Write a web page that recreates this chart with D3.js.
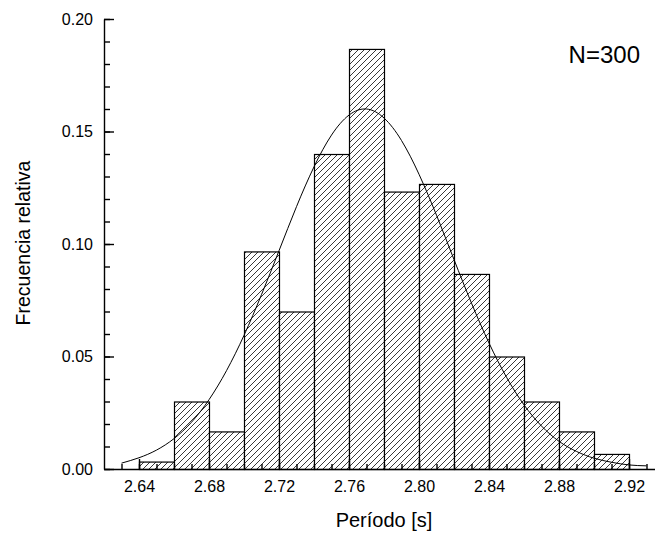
<!DOCTYPE html>
<html>
<head>
<meta charset="utf-8">
<script src="https://cdn.jsdelivr.net/npm/d3@7"></script>
<style>
  body { margin: 0; background: #fff; }
  svg { display: block; font-family: "Liberation Sans", Arial, sans-serif; }
  .axis text { font-size: 16px; fill: #000; }
  .axis path, .axis line { stroke: #000; stroke-width: 1.4; }
</style>
</head>
<body>
<div id="chart"></div>
<script>

// histogram bins (left edge, relative frequency)
var binStart = [2.64, 2.66, 2.68, 2.70, 2.72, 2.74, 2.76, 2.78, 2.80, 2.82, 2.84, 2.86, 2.88, 2.90];
var relFreq = [0.0033, 0.030, 0.0167, 0.0967, 0.070, 0.140, 0.1867, 0.1233, 0.1267, 0.0867, 0.050, 0.030, 0.0167, 0.0067];
var binWidth = 0.02;

// fitted gaussian
var fitX = [2.63, 2.64, 2.65, 2.66, 2.67, 2.68, 2.69, 2.70, 2.71, 2.72, 2.73, 2.74, 2.75, 2.76, 2.77, 2.78,
            2.79, 2.80, 2.81, 2.82, 2.83, 2.84, 2.85, 2.86, 2.87, 2.88, 2.89, 2.90, 2.91, 2.92, 2.93];
var fitY = [0.0026, 0.0050, 0.0084, 0.0135, 0.0208, 0.0308, 0.0437, 0.0594, 0.0775, 0.0970, 0.1166, 0.1343, 0.1484, 0.1573, 0.1600, 0.1560,
            0.1460, 0.1310, 0.1128, 0.0931, 0.0737, 0.0560, 0.0408, 0.0285, 0.0191, 0.0123, 0.0078, 0.0048, 0.0030, 0.0018, 0.0014];

var xTicks = [2.64, 2.68, 2.72, 2.76, 2.80, 2.84, 2.88, 2.92];
var yTicks = [0.00, 0.05, 0.10, 0.15, 0.20];
var label = "N=300";

var width = 655, height = 533;

var x = d3.scaleLinear().domain([2.62, 2.935]).range([104, 655.25]);
var y = d3.scaleLinear().domain([0, 0.2]).range([469, 19]);

var svg = d3.select("#chart").append("svg")
    .attr("width", width)
    .attr("height", height);

var pat = svg.append("defs").append("pattern")
    .attr("id", "hatch")
    .attr("patternUnits", "userSpaceOnUse")
    .attr("width", 6)
    .attr("height", 6);
pat.append("rect").attr("width", 6).attr("height", 6).attr("fill", "#fff");
pat.append("path")
    .attr("d", "M0,6 L6,0 M-1,1 L1,-1 M5,7 L7,5")
    .attr("stroke", "#222")
    .attr("stroke-width", 0.9);

svg.selectAll("rect.bar")
    .data(relFreq)
    .enter().append("rect")
    .attr("class", "bar")
    .attr("x", function(d, i) { return x(binStart[i]) + 0.5; })
    .attr("width", function(d, i) { return x(binStart[i] + binWidth) - x(binStart[i]); })
    .attr("y", function(d) { return y(d) + 0.5; })
    .attr("height", function(d) { return y(0) - y(d); })
    .attr("fill", "url(#hatch)")
    .attr("stroke", "#000")
    .attr("stroke-width", 1.2);

var line = d3.line()
    .x(function(d, i) { return x(fitX[i]); })
    .y(function(d) { return y(d); })
    .curve(d3.curveNatural);

svg.append("path")
    .attr("d", line(fitY))
    .attr("fill", "none")
    .attr("stroke", "#000")
    .attr("stroke-width", 1);

// minor ticks first, major axes on top
var xMinor = d3.range(2.63, 2.935, 0.01).map(function(v) { return +v.toFixed(2); });
var yMinor = d3.range(0, 0.2001, 0.01).map(function(v) { return +v.toFixed(2); });

svg.append("g")
    .attr("class", "axis")
    .attr("transform", "translate(0," + y(0) + ")")
    .call(d3.axisBottom(x).tickValues(xMinor).tickSize(-5).tickSizeOuter(0).tickFormat(""))
    .select(".domain").remove();

svg.append("g")
    .attr("class", "axis")
    .attr("transform", "translate(" + x(2.62) + ",0)")
    .call(d3.axisLeft(y).tickValues(yMinor).tickSize(-6).tickSizeOuter(0).tickFormat(""))
    .select(".domain").remove();

svg.append("g")
    .attr("class", "axis")
    .attr("transform", "translate(0," + y(0) + ")")
    .call(d3.axisBottom(x).tickValues(xTicks).tickSize(-10).tickSizeOuter(0).tickPadding(12)
        .tickFormat(d3.format(".2f")));

svg.append("g")
    .attr("class", "axis")
    .attr("transform", "translate(" + x(2.62) + ",0)")
    .call(d3.axisLeft(y).tickValues(yTicks).tickSize(-10).tickSizeOuter(0).tickPadding(11)
        .tickFormat(d3.format(".2f")));

svg.append("text")
    .attr("x", 384)
    .attr("y", 527)
    .attr("text-anchor", "middle")
    .attr("font-size", 20)
    .text("Período [s]");

svg.append("text")
    .attr("transform", "translate(30,243) rotate(-90)")
    .attr("text-anchor", "middle")
    .attr("font-size", 19.5)
    .text("Frecuencia relativa");

svg.append("text")
    .attr("x", 640)
    .attr("y", 63)
    .attr("text-anchor", "end")
    .attr("font-size", 24)
    .text(label);

</script>
</body>
</html>
